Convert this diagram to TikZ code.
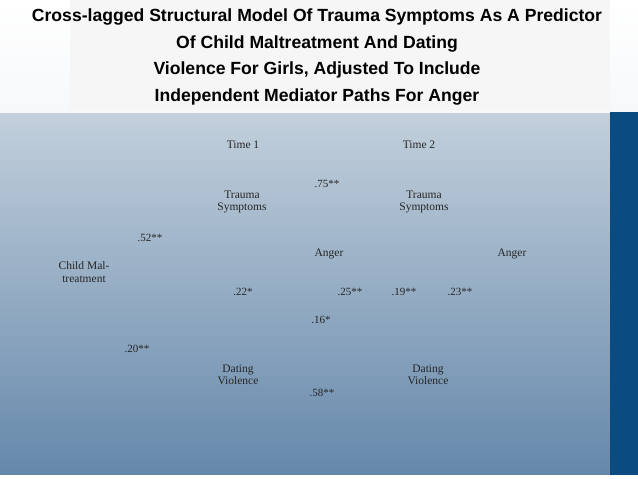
\documentclass[tikz,border=0pt]{standalone}
\usepackage{fontspec}
\setmainfont{Liberation Serif}
\newfontfamily\titlefont{Liberation Sans}
\definecolor{slateblue}{RGB}{100,135,170}
\definecolor{paleblue}{RGB}{195,208,220}
\definecolor{deepblue}{RGB}{10,75,130}
\tikzset{
  lbl/.style={align=center, font=\fontsize{11.5}{12.5}\selectfont, text=black!85, inner sep=1pt},
  coef/.style={font=\fontsize{11}{11.5}\selectfont, text=black!85, inner sep=1pt},
  ttl/.style={align=center, font=\titlefont\bfseries\fontsize{17.6}{26.5}\selectfont}
}
\begin{document}
\begin{tikzpicture}[x=1pt, y=-1pt]
    % slide background
    \useasboundingbox (0,0) rectangle (638,479);
    \shade[top color=paleblue, bottom color=slateblue] (0,112) rectangle (638,479);
    \fill[white, opacity=0.25] (0,112) -- (205,112) arc (0:-90:205 and 223) -- cycle;
    \shade[top color=white, bottom color=white!85!paleblue] (0,0) rectangle (638,112);
    \fill[white!93!gray] (70,0) rectangle (610,110);
    \fill[deepblue] (610,112) rectangle (638,479);
    \fill[white] (0,475) rectangle (638,479);
    % title
    \node[ttl] (title) at (317,57) {Cross-lagged Structural Model Of Trauma Symptoms As A Predictor\\Of Child Maltreatment And Dating\\Violence For Girls, Adjusted To Include\\ Independent Mediator Paths For Anger};
    % variables
    \node[lbl] (time1) at (243,145) {Time 1};
    \node[lbl] (time2) at (419,145) {Time 2};
    \node[lbl] (trauma1) at (242,202) {Trauma\\Symptoms};
    \node[lbl] (trauma2) at (424,202) {Trauma\\Symptoms};
    \node[lbl] (anger1) at (329,254) {Anger};
    \node[lbl] (anger2) at (512,254) {Anger};
    \node[lbl] (maltreat) at (84,272) {Child Mal-\\treatment};
    \node[lbl] (dating1) at (238,375) {Dating\\Violence};
    \node[lbl] (dating2) at (428,375) {Dating\\Violence};
    % path coefficients
    \foreach \x/\y/\val/\nm in {
        327/184/.75**/c1,
        150/238/.52**/c2,
        243/292/.22*/c3,
        350/292/.25**/c4,
        404/292/.19**/c5,
        460/292/.23**/c6,
        321/320/.16*/c7,
        137/349/.20**/c8,
        322/393/.58**/c9
    } {
        \node[coef] (\nm) at (\x,\y) {\val};
    }
\end{tikzpicture}
\end{document}
